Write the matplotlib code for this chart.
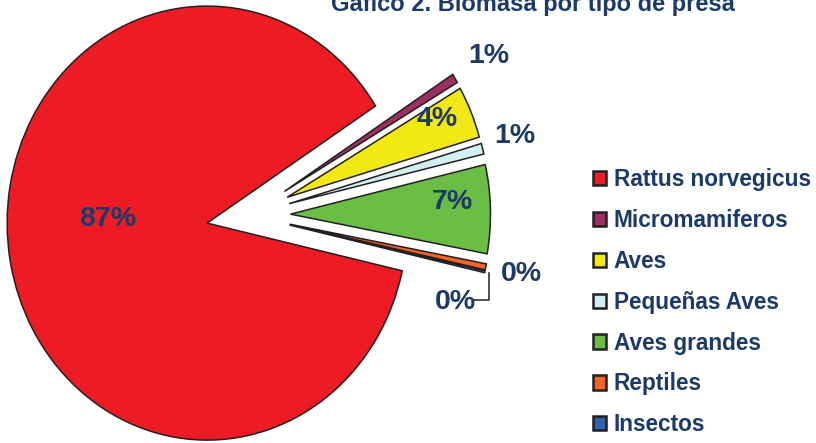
import numpy as np
import matplotlib
matplotlib.use("Agg")
import matplotlib.pyplot as plt

plt.rcParams['font.family'] = ['Liberation Sans', 'DejaVu Sans']

# biomass share by prey type (%)
categories = ['Rattus norvegicus', 'Micromamiferos', 'Aves', 'Pequeñas Aves',
              'Aves grandes', 'Reptiles', 'Insectos']
biomass = [87.4, 0.7, 3.9, 0.8, 6.6, 0.45, 0.15]
colors = ['#ED1C24', '#9B2F62', '#F2E814', '#D2EEF3', '#6ABD45', '#F26522', '#2A63AE']
title = 'Gafico 2. Biomasa por tipo de presa'

navy = '#1B3A68'

# label placement relative to each wedge apex: (distance, angle offset from bisector)
label_pos = [(0.50, -12.0), (1.20, 0.0), (0.83, 2.5), (1.17, 0.8),
             (0.81, 2.6), (1.18, 0.2), (0.90, -10.7)]

fig = plt.figure(figsize=(8.16, 4.43), dpi=100)
ax = fig.add_axes([0, 0, 1, 1])

wedges, _ = ax.pie(biomass, colors=colors, startangle=-12.7, counterclock=False,
                   explode=[0.21] * len(biomass),
                   wedgeprops=dict(edgecolor='#231F20', linewidth=1.1))

# the original chart is a bit squashed horizontally
ax.set_aspect('auto')
ax.set_xlim(-1.2425, 2.8375)
ax.set_ylim(-1.0498, 0.9917)
ax.axis('off')

for i, w in enumerate(wedges):
    mid = np.deg2rad((w.theta1 + w.theta2) / 2 + label_pos[i][1])
    cx, cy = w.center
    r = label_pos[i][0]
    x = cx + r * np.cos(mid)
    y = cy + r * np.sin(mid)
    ax.text(x, y, '%.0f%%' % biomass[i], ha='center', va='center',
            fontsize=20.5, fontweight='bold', color=navy)
    if i == len(wedges) - 1:
        # leader line from the tiny insect slice to its label
        m = np.deg2rad((w.theta1 + w.theta2) / 2)
        tx = cx + 1.02 * np.cos(m)
        ty = cy + 1.02 * np.sin(m)
        ax.plot([tx, tx, x + 0.09], [ty, y + 0.01, y + 0.01],
                color='#231F20', lw=1.1)

fig.text(533 / 816, 1 - 11 / 443, title, ha='center', va='baseline',
         fontsize=17, fontweight='bold', color=navy)

leg = fig.legend(wedges, categories, loc='upper left',
                 bbox_to_anchor=(593 / 816, 1 - 168 / 443),
                 frameon=False, fontsize=16.3, handlelength=0.59, handleheight=0.59,
                 handletextpad=0.32, labelspacing=0.79, borderpad=0, borderaxespad=0)
for t in leg.get_texts():
    t.set_color(navy)
    t.set_fontweight('bold')
for h in leg.legend_handles:
    h.set_linewidth(1.8)

fig.savefig('out.png', dpi=100)
